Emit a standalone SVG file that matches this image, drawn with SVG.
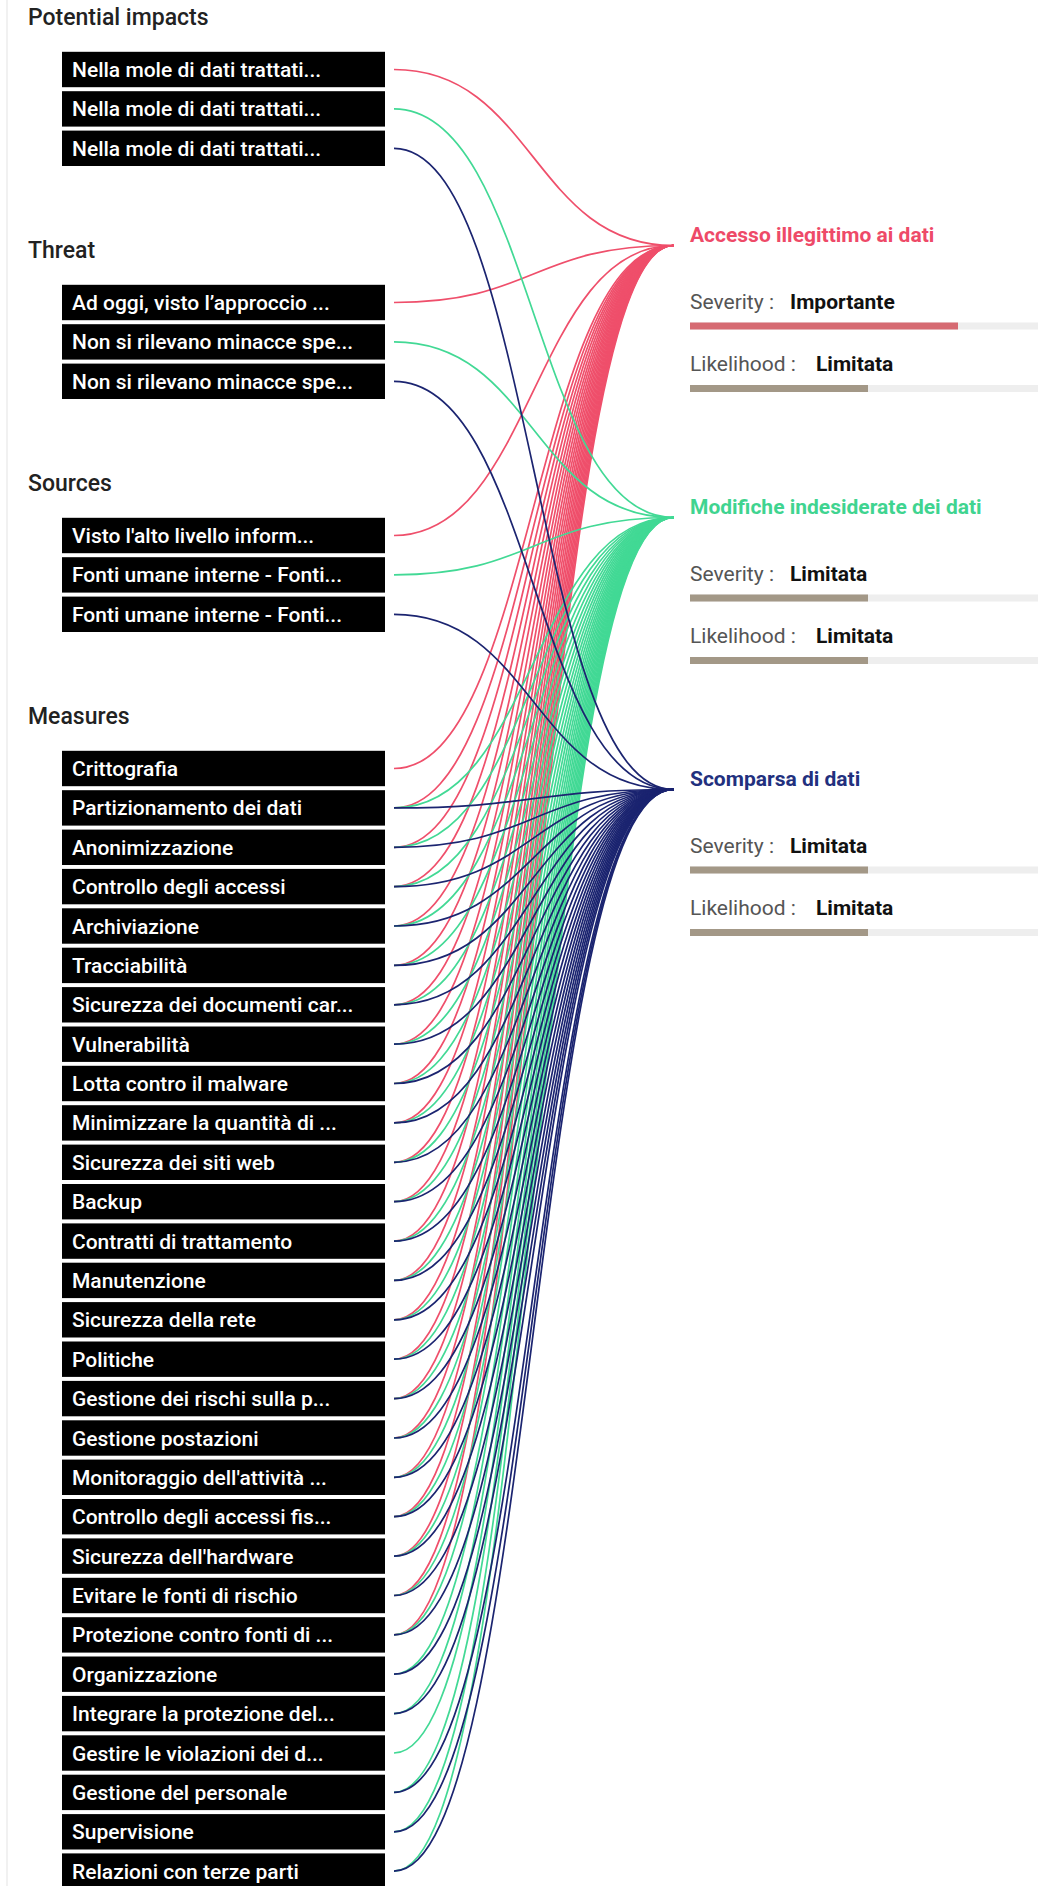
<svg xmlns="http://www.w3.org/2000/svg" width="1038" height="1886" viewBox="0 0 1038 1886">
<style>
.bg{fill:#ffffff}
.edge{stroke:#ececec;stroke-width:1.5}
.hdr{font-family:Roboto,"Liberation Sans",sans-serif;font-size:23px;font-weight:500;fill:#222}
.box{fill:#000}
.lbl{font-family:Roboto,"Liberation Sans",sans-serif;font-size:21px;font-weight:500;fill:#fff}
.lk{fill:none;stroke-width:1.7}
.r{stroke:#ef4f6b}
.g{stroke:#42d995}
.n{stroke:#1b2470}
.rt{font-family:Roboto,"Liberation Sans",sans-serif;font-size:21px;font-weight:700}
.key{font-family:Roboto,"Liberation Sans",sans-serif;font-size:21px;font-weight:400;fill:#555}
.val{font-family:Roboto,"Liberation Sans",sans-serif;font-size:21px;font-weight:700;fill:#111}
.trk{fill:#eeeeee}
.fl{fill:#a39887}
.fr{fill:#d66a72}
</style>
<rect class="bg" x="0" y="0" width="1038" height="1886"/>
<line class="edge" x1="7" y1="0" x2="7" y2="1886"/>

<g id="headers">
<text class="hdr" x="28" y="25">Potential impacts</text>
<text class="hdr" x="28" y="258">Threat</text>
<text class="hdr" x="28" y="491">Sources</text>
<text class="hdr" x="28" y="724">Measures</text>
</g>

<g id="connectors">
<g id="links-red" class="lk r">
<path d="M394,69.5C533.5,69.5 533.5,245.5 673.5,245.5"/>
<path d="M394,302.5C533.5,302.5 533.5,245.5 673.5,245.5"/>
<path d="M394,535.5C533.5,535.5 533.5,245.5 673.5,245.5"/>
<path d="M394,768.5C533.5,768.5 533.5,245.5 673.5,245.5"/>
<path d="M394,807.9C533.5,807.9 533.5,245.5 673.5,245.5"/>
<path d="M394,847.3C533.5,847.3 533.5,245.5 673.5,245.5"/>
<path d="M394,886.6C533.5,886.6 533.5,245.5 673.5,245.5"/>
<path d="M394,926C533.5,926 533.5,245.5 673.5,245.5"/>
<path d="M394,965.4C533.5,965.4 533.5,245.5 673.5,245.5"/>
<path d="M394,1004.8C533.5,1004.8 533.5,245.5 673.5,245.5"/>
<path d="M394,1044.2C533.5,1044.2 533.5,245.5 673.5,245.5"/>
<path d="M394,1083.5C533.5,1083.5 533.5,245.5 673.5,245.5"/>
<path d="M394,1122.9C533.5,1122.9 533.5,245.5 673.5,245.5"/>
<path d="M394,1162.3C533.5,1162.3 533.5,245.5 673.5,245.5"/>
<path d="M394,1201.7C533.5,1201.7 533.5,245.5 673.5,245.5"/>
<path d="M394,1241.1C533.5,1241.1 533.5,245.5 673.5,245.5"/>
<path d="M394,1280.4C533.5,1280.4 533.5,245.5 673.5,245.5"/>
<path d="M394,1319.8C533.5,1319.8 533.5,245.5 673.5,245.5"/>
<path d="M394,1359.2C533.5,1359.2 533.5,245.5 673.5,245.5"/>
<path d="M394,1398.6C533.5,1398.6 533.5,245.5 673.5,245.5"/>
<path d="M394,1438C533.5,1438 533.5,245.5 673.5,245.5"/>
<path d="M394,1477.3C533.5,1477.3 533.5,245.5 673.5,245.5"/>
<path d="M394,1516.7C533.5,1516.7 533.5,245.5 673.5,245.5"/>
<path d="M394,1556.1C533.5,1556.1 533.5,245.5 673.5,245.5"/>
<path d="M394,1595.5C533.5,1595.5 533.5,245.5 673.5,245.5"/>
<path d="M394,1634.9C533.5,1634.9 533.5,245.5 673.5,245.5"/>
</g>
<g id="links-green" class="lk g">
<path d="M394,108.9C533.5,108.9 533.5,517.5 673.5,517.5"/>
<path d="M394,341.9C533.5,341.9 533.5,517.5 673.5,517.5"/>
<path d="M394,574.9C533.5,574.9 533.5,517.5 673.5,517.5"/>
<path d="M394,807.9C533.5,807.9 533.5,517.5 673.5,517.5"/>
<path d="M394,847.3C533.5,847.3 533.5,517.5 673.5,517.5"/>
<path d="M394,886.6C533.5,886.6 533.5,517.5 673.5,517.5"/>
<path d="M394,926C533.5,926 533.5,517.5 673.5,517.5"/>
<path d="M394,965.4C533.5,965.4 533.5,517.5 673.5,517.5"/>
<path d="M394,1004.8C533.5,1004.8 533.5,517.5 673.5,517.5"/>
<path d="M394,1044.2C533.5,1044.2 533.5,517.5 673.5,517.5"/>
<path d="M394,1083.5C533.5,1083.5 533.5,517.5 673.5,517.5"/>
<path d="M394,1122.9C533.5,1122.9 533.5,517.5 673.5,517.5"/>
<path d="M394,1162.3C533.5,1162.3 533.5,517.5 673.5,517.5"/>
<path d="M394,1201.7C533.5,1201.7 533.5,517.5 673.5,517.5"/>
<path d="M394,1241.1C533.5,1241.1 533.5,517.5 673.5,517.5"/>
<path d="M394,1280.4C533.5,1280.4 533.5,517.5 673.5,517.5"/>
<path d="M394,1319.8C533.5,1319.8 533.5,517.5 673.5,517.5"/>
<path d="M394,1359.2C533.5,1359.2 533.5,517.5 673.5,517.5"/>
<path d="M394,1398.6C533.5,1398.6 533.5,517.5 673.5,517.5"/>
<path d="M394,1438C533.5,1438 533.5,517.5 673.5,517.5"/>
<path d="M394,1477.3C533.5,1477.3 533.5,517.5 673.5,517.5"/>
<path d="M394,1516.7C533.5,1516.7 533.5,517.5 673.5,517.5"/>
<path d="M394,1556.1C533.5,1556.1 533.5,517.5 673.5,517.5"/>
<path d="M394,1595.5C533.5,1595.5 533.5,517.5 673.5,517.5"/>
<path d="M394,1634.9C533.5,1634.9 533.5,517.5 673.5,517.5"/>
<path d="M394,1674.2C533.5,1674.2 533.5,517.5 673.5,517.5"/>
<path d="M394,1713.6C533.5,1713.6 533.5,517.5 673.5,517.5"/>
<path d="M394,1753C533.5,1753 533.5,517.5 673.5,517.5"/>
<path d="M394,1792.4C533.5,1792.4 533.5,517.5 673.5,517.5"/>
<path d="M394,1831.8C533.5,1831.8 533.5,517.5 673.5,517.5"/>
<path d="M394,1871.1C533.5,1871.1 533.5,517.5 673.5,517.5"/>
</g>
<g id="links-navy" class="lk n">
<path d="M394,148.3C533.5,148.3 533.5,789.5 673.5,789.5"/>
<path d="M394,381.3C533.5,381.3 533.5,789.5 673.5,789.5"/>
<path d="M394,614.3C533.5,614.3 533.5,789.5 673.5,789.5"/>
<path d="M394,807.9C533.5,807.9 533.5,789.5 673.5,789.5"/>
<path d="M394,847.3C533.5,847.3 533.5,789.5 673.5,789.5"/>
<path d="M394,886.6C533.5,886.6 533.5,789.5 673.5,789.5"/>
<path d="M394,926C533.5,926 533.5,789.5 673.5,789.5"/>
<path d="M394,965.4C533.5,965.4 533.5,789.5 673.5,789.5"/>
<path d="M394,1004.8C533.5,1004.8 533.5,789.5 673.5,789.5"/>
<path d="M394,1044.2C533.5,1044.2 533.5,789.5 673.5,789.5"/>
<path d="M394,1083.5C533.5,1083.5 533.5,789.5 673.5,789.5"/>
<path d="M394,1122.9C533.5,1122.9 533.5,789.5 673.5,789.5"/>
<path d="M394,1162.3C533.5,1162.3 533.5,789.5 673.5,789.5"/>
<path d="M394,1201.7C533.5,1201.7 533.5,789.5 673.5,789.5"/>
<path d="M394,1241.1C533.5,1241.1 533.5,789.5 673.5,789.5"/>
<path d="M394,1280.4C533.5,1280.4 533.5,789.5 673.5,789.5"/>
<path d="M394,1319.8C533.5,1319.8 533.5,789.5 673.5,789.5"/>
<path d="M394,1359.2C533.5,1359.2 533.5,789.5 673.5,789.5"/>
<path d="M394,1398.6C533.5,1398.6 533.5,789.5 673.5,789.5"/>
<path d="M394,1438C533.5,1438 533.5,789.5 673.5,789.5"/>
<path d="M394,1477.3C533.5,1477.3 533.5,789.5 673.5,789.5"/>
<path d="M394,1516.7C533.5,1516.7 533.5,789.5 673.5,789.5"/>
<path d="M394,1556.1C533.5,1556.1 533.5,789.5 673.5,789.5"/>
<path d="M394,1595.5C533.5,1595.5 533.5,789.5 673.5,789.5"/>
<path d="M394,1634.9C533.5,1634.9 533.5,789.5 673.5,789.5"/>
<path d="M394,1674.2C533.5,1674.2 533.5,789.5 673.5,789.5"/>
<path d="M394,1713.6C533.5,1713.6 533.5,789.5 673.5,789.5"/>
<path d="M394,1792.4C533.5,1792.4 533.5,789.5 673.5,789.5"/>
<path d="M394,1831.8C533.5,1831.8 533.5,789.5 673.5,789.5"/>
<path d="M394,1871.1C533.5,1871.1 533.5,789.5 673.5,789.5"/>
</g>
</g>

<g id="impact-1" transform="translate(0,69.5)"><rect class="box" x="62" y="-17.7" width="323" height="35.4"/><text class="lbl" x="72" y="7.5">Nella mole di dati trattati...</text></g>
<g id="impact-2" transform="translate(0,108.9)"><rect class="box" x="62" y="-17.7" width="323" height="35.4"/><text class="lbl" x="72" y="7.5">Nella mole di dati trattati...</text></g>
<g id="impact-3" transform="translate(0,148.3)"><rect class="box" x="62" y="-17.7" width="323" height="35.4"/><text class="lbl" x="72" y="7.5">Nella mole di dati trattati...</text></g>

<g id="threat-1" transform="translate(0,302.5)"><rect class="box" x="62" y="-17.7" width="323" height="35.4"/><text class="lbl" x="72" y="7.5">Ad oggi, visto l’approccio ...</text></g>
<g id="threat-2" transform="translate(0,341.9)"><rect class="box" x="62" y="-17.7" width="323" height="35.4"/><text class="lbl" x="72" y="7.5">Non si rilevano minacce spe...</text></g>
<g id="threat-3" transform="translate(0,381.3)"><rect class="box" x="62" y="-17.7" width="323" height="35.4"/><text class="lbl" x="72" y="7.5">Non si rilevano minacce spe...</text></g>

<g id="source-1" transform="translate(0,535.5)"><rect class="box" x="62" y="-17.7" width="323" height="35.4"/><text class="lbl" x="72" y="7.5">Visto l'alto livello inform...</text></g>
<g id="source-2" transform="translate(0,574.9)"><rect class="box" x="62" y="-17.7" width="323" height="35.4"/><text class="lbl" x="72" y="7.5">Fonti umane interne - Fonti...</text></g>
<g id="source-3" transform="translate(0,614.3)"><rect class="box" x="62" y="-17.7" width="323" height="35.4"/><text class="lbl" x="72" y="7.5">Fonti umane interne - Fonti...</text></g>

<g id="m00" transform="translate(0,768.5)"><rect class="box" x="62" y="-17.7" width="323" height="35.4"/><text class="lbl" x="72" y="7.5">Crittografia</text></g>
<g id="m01" transform="translate(0,807.9)"><rect class="box" x="62" y="-17.7" width="323" height="35.4"/><text class="lbl" x="72" y="7.5">Partizionamento dei dati</text></g>
<g id="m02" transform="translate(0,847.3)"><rect class="box" x="62" y="-17.7" width="323" height="35.4"/><text class="lbl" x="72" y="7.5">Anonimizzazione</text></g>
<g id="m03" transform="translate(0,886.6)"><rect class="box" x="62" y="-17.7" width="323" height="35.4"/><text class="lbl" x="72" y="7.5">Controllo degli accessi</text></g>
<g id="m04" transform="translate(0,926)"><rect class="box" x="62" y="-17.7" width="323" height="35.4"/><text class="lbl" x="72" y="7.5">Archiviazione</text></g>
<g id="m05" transform="translate(0,965.4)"><rect class="box" x="62" y="-17.7" width="323" height="35.4"/><text class="lbl" x="72" y="7.5">Tracciabilità</text></g>
<g id="m06" transform="translate(0,1004.8)"><rect class="box" x="62" y="-17.7" width="323" height="35.4"/><text class="lbl" x="72" y="7.5">Sicurezza dei documenti car...</text></g>
<g id="m07" transform="translate(0,1044.2)"><rect class="box" x="62" y="-17.7" width="323" height="35.4"/><text class="lbl" x="72" y="7.5">Vulnerabilità</text></g>
<g id="m08" transform="translate(0,1083.5)"><rect class="box" x="62" y="-17.7" width="323" height="35.4"/><text class="lbl" x="72" y="7.5">Lotta contro il malware</text></g>
<g id="m09" transform="translate(0,1122.9)"><rect class="box" x="62" y="-17.7" width="323" height="35.4"/><text class="lbl" x="72" y="7.5">Minimizzare la quantità di ...</text></g>
<g id="m10" transform="translate(0,1162.3)"><rect class="box" x="62" y="-17.7" width="323" height="35.4"/><text class="lbl" x="72" y="7.5">Sicurezza dei siti web</text></g>
<g id="m11" transform="translate(0,1201.7)"><rect class="box" x="62" y="-17.7" width="323" height="35.4"/><text class="lbl" x="72" y="7.5">Backup</text></g>
<g id="m12" transform="translate(0,1241.1)"><rect class="box" x="62" y="-17.7" width="323" height="35.4"/><text class="lbl" x="72" y="7.5">Contratti di trattamento</text></g>
<g id="m13" transform="translate(0,1280.4)"><rect class="box" x="62" y="-17.7" width="323" height="35.4"/><text class="lbl" x="72" y="7.5">Manutenzione</text></g>
<g id="m14" transform="translate(0,1319.8)"><rect class="box" x="62" y="-17.7" width="323" height="35.4"/><text class="lbl" x="72" y="7.5">Sicurezza della rete</text></g>
<g id="m15" transform="translate(0,1359.2)"><rect class="box" x="62" y="-17.7" width="323" height="35.4"/><text class="lbl" x="72" y="7.5">Politiche</text></g>
<g id="m16" transform="translate(0,1398.6)"><rect class="box" x="62" y="-17.7" width="323" height="35.4"/><text class="lbl" x="72" y="7.5">Gestione dei rischi sulla p...</text></g>
<g id="m17" transform="translate(0,1438)"><rect class="box" x="62" y="-17.7" width="323" height="35.4"/><text class="lbl" x="72" y="7.5">Gestione postazioni</text></g>
<g id="m18" transform="translate(0,1477.3)"><rect class="box" x="62" y="-17.7" width="323" height="35.4"/><text class="lbl" x="72" y="7.5">Monitoraggio dell'attività ...</text></g>
<g id="m19" transform="translate(0,1516.7)"><rect class="box" x="62" y="-17.7" width="323" height="35.4"/><text class="lbl" x="72" y="7.5">Controllo degli accessi fis...</text></g>
<g id="m20" transform="translate(0,1556.1)"><rect class="box" x="62" y="-17.7" width="323" height="35.4"/><text class="lbl" x="72" y="7.5">Sicurezza dell'hardware</text></g>
<g id="m21" transform="translate(0,1595.5)"><rect class="box" x="62" y="-17.7" width="323" height="35.4"/><text class="lbl" x="72" y="7.5">Evitare le fonti di rischio</text></g>
<g id="m22" transform="translate(0,1634.9)"><rect class="box" x="62" y="-17.7" width="323" height="35.4"/><text class="lbl" x="72" y="7.5">Protezione contro fonti di ...</text></g>
<g id="m23" transform="translate(0,1674.2)"><rect class="box" x="62" y="-17.7" width="323" height="35.4"/><text class="lbl" x="72" y="7.5">Organizzazione</text></g>
<g id="m24" transform="translate(0,1713.6)"><rect class="box" x="62" y="-17.7" width="323" height="35.4"/><text class="lbl" x="72" y="7.5">Integrare la protezione del...</text></g>
<g id="m25" transform="translate(0,1753)"><rect class="box" x="62" y="-17.7" width="323" height="35.4"/><text class="lbl" x="72" y="7.5">Gestire le violazioni dei d...</text></g>
<g id="m26" transform="translate(0,1792.4)"><rect class="box" x="62" y="-17.7" width="323" height="35.4"/><text class="lbl" x="72" y="7.5">Gestione del personale</text></g>
<g id="m27" transform="translate(0,1831.8)"><rect class="box" x="62" y="-17.7" width="323" height="35.4"/><text class="lbl" x="72" y="7.5">Supervisione</text></g>
<g id="m28" transform="translate(0,1871.1)"><rect class="box" x="62" y="-17.7" width="323" height="35.4"/><text class="lbl" x="72" y="7.5">Relazioni con terze parti</text></g>

<g id="risk-accesso" transform="translate(0,241.5)">
<text class="rt" x="690" y="0" fill="#ee4a68">Accesso illegittimo ai dati</text>
<text class="key" x="690" y="67">Severity :</text><text class="val" x="790" y="67">Importante</text>
<rect class="trk" x="690" y="81" width="400" height="7"/><rect class="fr" x="690" y="81" width="268" height="7"/>
<text class="key" x="690" y="129.5">Likelihood :</text><text class="val" x="816" y="129.5">Limitata</text>
<rect class="trk" x="690" y="143.5" width="400" height="7"/><rect class="fl" x="690" y="143.5" width="178" height="7"/>
</g>
<g id="risk-modifiche" transform="translate(0,513.5)">
<text class="rt" x="690" y="0" fill="#3fd490">Modifiche indesiderate dei dati</text>
<text class="key" x="690" y="67">Severity :</text><text class="val" x="790" y="67">Limitata</text>
<rect class="trk" x="690" y="81" width="400" height="7"/><rect class="fl" x="690" y="81" width="178" height="7"/>
<text class="key" x="690" y="129.5">Likelihood :</text><text class="val" x="816" y="129.5">Limitata</text>
<rect class="trk" x="690" y="143.5" width="400" height="7"/><rect class="fl" x="690" y="143.5" width="178" height="7"/>
</g>
<g id="risk-scomparsa" transform="translate(0,785.5)">
<text class="rt" x="690" y="0" fill="#22307e">Scomparsa di dati</text>
<text class="key" x="690" y="67">Severity :</text><text class="val" x="790" y="67">Limitata</text>
<rect class="trk" x="690" y="81" width="400" height="7"/><rect class="fl" x="690" y="81" width="178" height="7"/>
<text class="key" x="690" y="129.5">Likelihood :</text><text class="val" x="816" y="129.5">Limitata</text>
<rect class="trk" x="690" y="143.5" width="400" height="7"/><rect class="fl" x="690" y="143.5" width="178" height="7"/>
</g>
</svg>
